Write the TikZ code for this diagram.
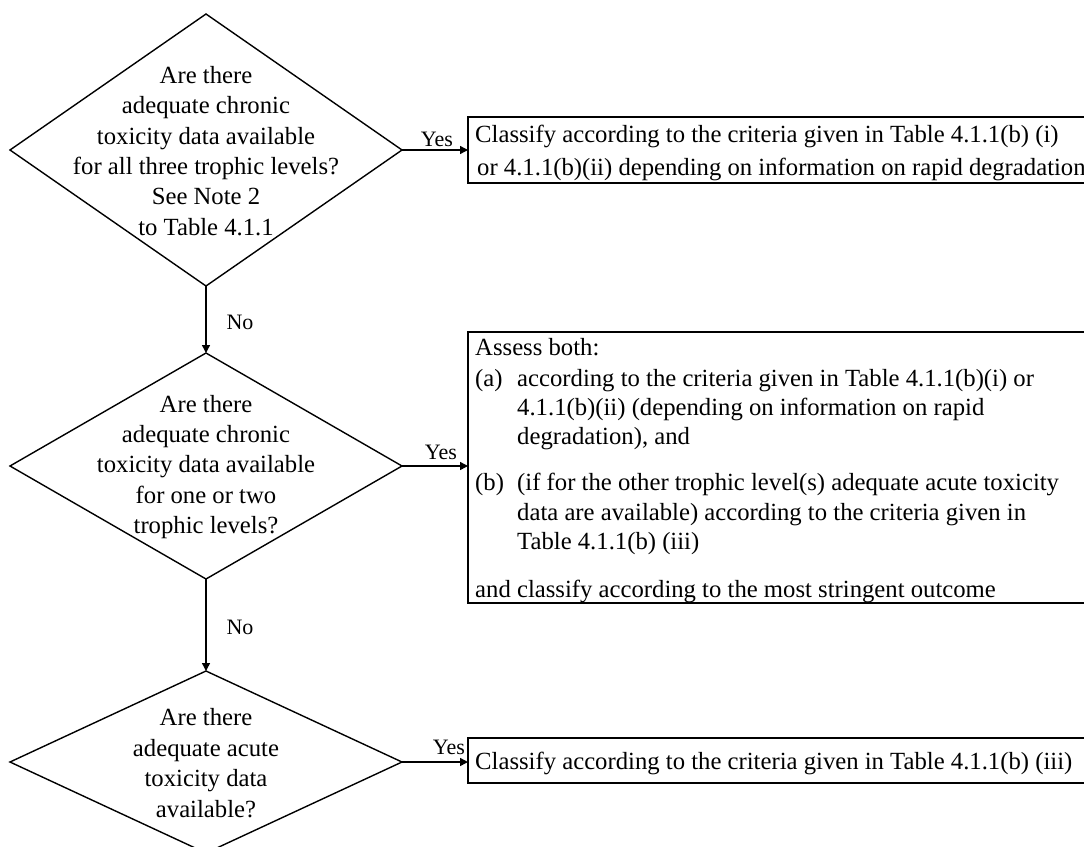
\documentclass[tikz,border=0pt]{standalone}
\usepackage{fontspec}
\setmainfont{Liberation Serif}
\usetikzlibrary{shapes.geometric,arrows.meta}
\begin{document}
\begin{tikzpicture}[x=1pt,y=-1pt,
  dia/.style={draw, diamond, line width=1.4pt, inner sep=0pt, outer sep=0pt, minimum width=392pt},
  boxnode/.style={draw, rectangle, line width=1.6pt, inner sep=0pt, outer sep=0pt, anchor=north west, minimum width=640pt},
  qtext/.style={align=center, inner sep=0pt, font=\fontsize{24.7}{30.4}\selectfont},
  btext/.style={anchor=base west, inner sep=0pt, font=\fontsize{24.7}{29.5}\selectfont},
  lab/.style={inner sep=0pt, font=\fontsize{22}{24}\selectfont},
  arr/.style={line width=1.4pt, -{Triangle[length=8pt,width=8pt]}}
]
\useasboundingbox (0,0) rectangle (1084,846);

% decisions
\node[dia, minimum height=272pt] (d1) at (206,150) {};
\node[dia, minimum height=226pt] (d2) at (206,466) {};
\node[dia, minimum height=182pt] (d3) at (206,762) {};
\node[qtext] (q1) at (206,151) {Are there\\adequate chronic\\toxicity data available\\for all three trophic levels?\\See Note 2\\to Table 4.1.1};
\node[qtext] (q2) at (206,467) {Are there\\adequate chronic\\toxicity data available\\for one or two\\trophic levels?};
\node[qtext] (q3) at (206,763) {Are there\\adequate acute\\toxicity data\\available?};

% outcome boxes
\node[boxnode, minimum height=66pt] (b1) at (468,117) {};
\node[boxnode, minimum height=271pt] (b2) at (468,332) {};
\node[boxnode, minimum height=45pt] (b3) at (468,738) {};

% box 1 text
\node[btext] (b1l1) at (475,142) {Classify according to the criteria given in Table 4.1.1(b) (i)};
\node[btext] (b1l2) at (477,175) {or 4.1.1(b)(ii) depending on information on rapid degradation};

% box 2 text
\node[btext] (b2l1) at (475,355) {Assess both:};
\node[btext] (b2a) at (475,386) {(a)};
\node[btext] (b2l2) at (517,386) {according to the criteria given in Table 4.1.1(b)(i) or};
\node[btext] (b2l3) at (517,415) {4.1.1(b)(ii) (depending on information on rapid};
\node[btext] (b2l4) at (517,444) {degradation), and};
\node[btext] (b2b) at (475,490) {(b)};
\node[btext] (b2l5) at (517,490) {(if for the other trophic level(s) adequate acute toxicity};
\node[btext] (b2l6) at (517,520) {data are available) according to the criteria given in};
\node[btext] (b2l7) at (517,549) {Table 4.1.1(b) (iii)};
\node[btext] (b2l8) at (475,597) {and classify according to the most stringent outcome};

% box 3 text
\node[btext] (b3l1) at (475,769) {Classify according to the criteria given in Table 4.1.1(b) (iii)};

% connectors
\draw[arr] (d1.east) -- (d1.east -| b1.west);
\draw[arr] (d2.east) -- (d2.east -| b2.west);
\draw[arr] (d3.east) -- (d3.east -| b3.west);
\draw[arr] (d1.south) -- (d2.north);
\draw[arr] (d2.south) -- (d3.north);

% labels
\node[lab] (y1) at (437,139) {Yes};
\node[lab] (y2) at (441,452) {Yes};
\node[lab] (y3) at (449,747) {Yes};
\node[lab] (n1) at (240,322) {No};
\node[lab] (n2) at (240,627) {No};
\end{tikzpicture}
\end{document}
